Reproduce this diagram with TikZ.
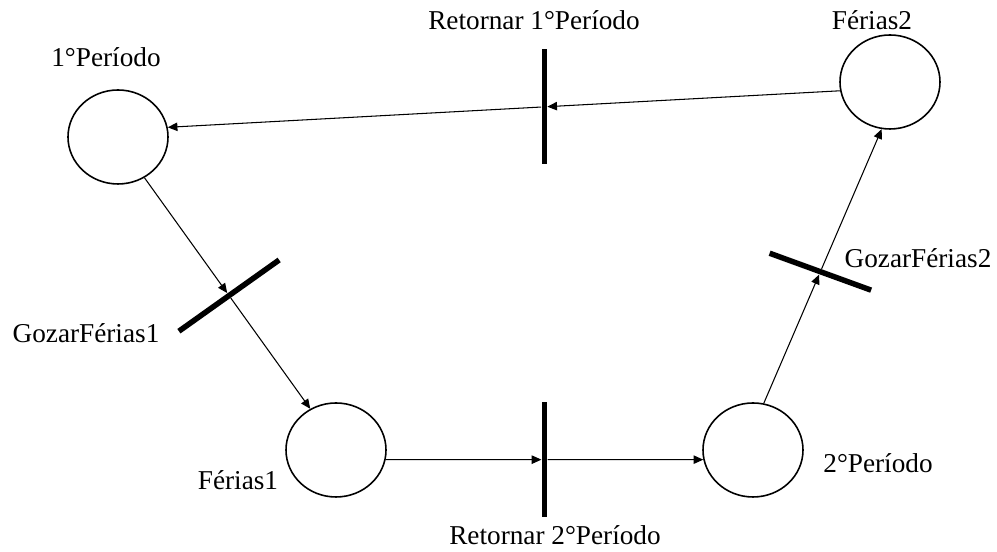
\documentclass[tikz,border=0pt]{standalone}
\usepackage{fontspec}
\setmainfont{Liberation Serif}
\usepackage{tikz}
\usetikzlibrary{shapes.geometric,arrows.meta,positioning,calc}

\begin{document}
\begin{tikzpicture}[
  place/.style={draw, ellipse, minimum width=2cm, minimum height=1.88cm, inner sep=0pt, line width=0.9pt},
  trans/.style={fill=black, rectangle, minimum width=0.11cm, minimum height=2.3cm, inner sep=0pt},
  lbl/.style={font=\fontsize{15.5}{18}\selectfont, inner sep=0pt},
  flow/.style={-{Triangle[length=5.5pt,width=4.8pt]}, line width=0.6pt}
]
\useasboundingbox (0,0) rectangle (19.94,11.04);

% places
\node[place] (p1) at (2.36, 8.3) {};
\node[place] (f2) at (17.8, 9.4) {};
\node[place] (f1) at (6.72, 2.04) {};
\node[place] (p2) at (15.06, 2.04) {};

% transitions
\node[trans] (ret1) at ($(f2.190)!0.44!(p1.11)$) {};
\node[trans, rotate=-54.6, minimum height=2.46cm] (goz1) at ($(p1.303)!0.51!(f1.122)$) {};
\node[trans] (ret2) at ($(f1.349)!0.5!(p2.191)$) {};
\node[trans, rotate=70, minimum height=2.16cm] (goz2) at ($(p2.77)!0.48!(f2.-100)$) {};

% labels
\node[lbl] (lp1) at (2.12, 9.9) {1°Período};
\node[lbl] (lf2) at (17.44, 10.64) {Férias2};
\node[lbl] (lret1) at (10.68, 10.64) {Retornar 1°Período};
\node[lbl] (lgoz1) at (1.72, 4.38) {GozarFérias1};
\node[lbl] (lgoz2) at (18.36, 5.88) {GozarFérias2};
\node[lbl] (lf1) at (4.76, 1.44) {Férias1};
\node[lbl] (lp2) at (17.56, 1.78) {2°Período};
\node[lbl] (lret2) at (11.1, 0.34) {Retornar 2°Período};

% arcs
\draw[flow] (f2.190) -- (ret1);
\draw[flow] (ret1) -- (p1.11);
\draw[flow] (p1.303) -- (goz1);
\draw[flow] (goz1) -- (f1.122);
\draw[flow] (f1.349) -- (ret2);
\draw[flow] (ret2) -- (p2.191);
\draw[flow] (p2.77) -- (goz2);
\draw[flow] (goz2) -- (f2.-100);

\end{tikzpicture}
\end{document}
